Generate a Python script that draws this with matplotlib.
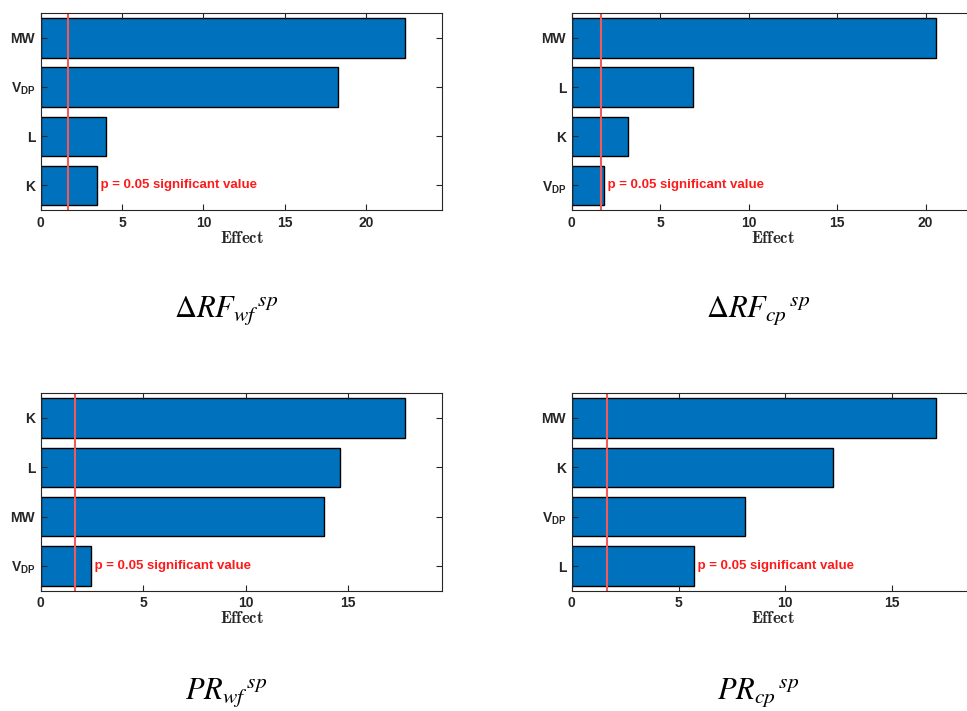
import matplotlib.pyplot as plt
import numpy as np

# values (top to bottom in each panel)
labels_rf_wf = ['MW', r'$\mathbf{V_{DP}}$', 'L', 'K']
effect_rf_wf = [22.4, 18.25, 4.0, 3.48]
labels_rf_cp = ['MW', 'L', 'K', r'$\mathbf{V_{DP}}$']
effect_rf_cp = [20.58, 6.88, 3.19, 1.80]
labels_pr_wf = ['K', 'L', 'MW', r'$\mathbf{V_{DP}}$']
effect_pr_wf = [17.78, 14.58, 13.83, 2.44]
labels_pr_cp = ['MW', 'K', r'$\mathbf{V_{DP}}$', 'L']
effect_pr_cp = [17.06, 12.22, 8.12, 5.71]
p_line = [1.68, 1.64, 1.67, 1.64]
xmax = [24.67, 22.7, 19.59, 18.8]
titles = [r'$\Delta RF_{wf}{}^{\,sp}$', r'$\Delta RF_{cp}{}^{\,sp}$',
          r'$PR_{wf}{}^{\,sp}$', r'$PR_{cp}{}^{\,sp}$']

plt.rcParams['font.family'] = 'Liberation Sans'
plt.rcParams['mathtext.fontset'] = 'custom'
plt.rcParams['mathtext.rm'] = 'Liberation Sans:bold'
plt.rcParams['mathtext.bf'] = 'Liberation Sans:bold'
plt.rcParams['mathtext.it'] = 'Liberation Sans:bold'

fig = plt.figure(figsize=(9.67, 7.11), dpi=100)

W, H = 967.0, 711.0
lefts = [40.7, 571.7, 40.7, 571.7]
tops = [13.3, 13.3, 393.3, 393.3]
bottoms = [210.0, 210.0, 590.7, 590.7]
axw = 401.6

data = [(labels_rf_wf, effect_rf_wf), (labels_rf_cp, effect_rf_cp),
        (labels_pr_wf, effect_pr_wf), (labels_pr_cp, effect_pr_cp)]

title_pos = [(226, 318), (758, 318), (226, 700), (758, 700)]
spine_col = '#262626'

for i, (labs, vals) in enumerate(data):
    ax = fig.add_axes([lefts[i] / W, 1 - bottoms[i] / H, axw / W,
                       (bottoms[i] - tops[i]) / H])
    y = np.arange(len(vals))[::-1] + 1
    ax.barh(y, vals, height=0.8, color='#0072BD', edgecolor='black', linewidth=1.0)
    ax.axvline(p_line[i], color='#f05a5a', linewidth=1.5)
    ax.text(vals[-1], y[-1], ' p = 0.05 significant value', color='#ff1a1a',
            fontweight='bold', fontsize=9.5, ha='left', va='center')
    ax.set_xlim(0, xmax[i])
    ax.set_ylim(0.5, 4.5)
    ax.set_yticks(y)
    ax.set_yticklabels(labs)
    ax.set_xticks(np.arange(0, xmax[i], 5))
    for lab in ax.get_yticklabels() + ax.get_xticklabels():
        lab.set_fontweight('bold')
        lab.set_fontsize(10)
        lab.set_color('#262626')
    ax.tick_params(direction='in', top=True, right=True, length=4,
                   width=0.8, color=spine_col, pad=4)
    for s in ax.spines.values():
        s.set_color(spine_col)
        s.set_linewidth(0.8)
    ax.set_xlabel(r'$\mathbf{Effect}$', fontsize=12, labelpad=0,
                  math_fontfamily='cm', color='#262626')
    fig.text(title_pos[i][0] / W, 1 - title_pos[i][1] / H, titles[i],
             fontsize=22, ha='center', va='baseline', math_fontfamily='stix')

fig.savefig('out.png', dpi=100)
